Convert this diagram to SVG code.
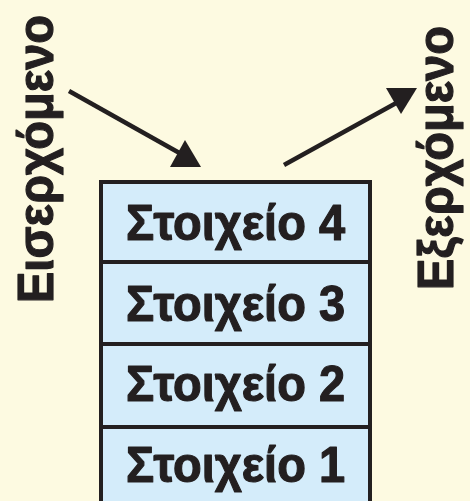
<svg xmlns="http://www.w3.org/2000/svg" width="470" height="501" viewBox="0 0 470 501">
  <style>
    .bg { fill: #FDFAE1; }
    .cell { fill: #D4ECFA; stroke: #231F20; stroke-width: 4; }
    .label { font-family: "Liberation Sans", Arial, sans-serif; font-weight: bold; font-size: 50px; fill: #231F20; stroke: #231F20; stroke-width: 1.2; stroke-linejoin: round; }
    .line { stroke: #231F20; stroke-width: 4.5; fill: none; }
    .head { fill: #231F20; }
  </style>
  <rect class="bg" x="0" y="0" width="470" height="501"/>

  <g id="item4">
    <rect class="cell" x="101" y="182" width="269" height="80"/>
    <text class="label" x="235.5" y="240" text-anchor="middle" textLength="219" lengthAdjust="spacingAndGlyphs">Στοιχείο 4</text>
  </g>
  <g id="item3">
    <rect class="cell" x="101" y="262" width="269" height="82"/>
    <text class="label" x="235.5" y="321" text-anchor="middle" textLength="219" lengthAdjust="spacingAndGlyphs">Στοιχείο 3</text>
  </g>
  <g id="item2">
    <rect class="cell" x="101" y="344" width="269" height="83"/>
    <text class="label" x="235.5" y="401" text-anchor="middle" textLength="219" lengthAdjust="spacingAndGlyphs">Στοιχείο 2</text>
  </g>
  <g id="item1">
    <rect class="cell" x="101" y="427" width="269" height="84"/>
    <text class="label" x="235.5" y="482" text-anchor="middle" textLength="219" lengthAdjust="spacingAndGlyphs">Στοιχείο 1</text>
  </g>

  <g id="incoming-label">
    <text class="label" transform="translate(53,303) rotate(-90)" textLength="288" lengthAdjust="spacingAndGlyphs">Εισερχόμενο</text>
  </g>
  <g id="outgoing-label">
    <text class="label" transform="translate(453,290) rotate(-90)" textLength="264" lengthAdjust="spacingAndGlyphs">Εξερχόμενο</text>
  </g>

  <g id="connectors">
    <line class="line" x1="69" y1="91" x2="183" y2="155"/>
    <polygon class="head" points="185,140 170,167 201,167"/>
    <line class="line" x1="284" y1="165" x2="398" y2="102"/>
    <polygon class="head" points="386,88 417,88 401,114"/>
  </g>
</svg>
